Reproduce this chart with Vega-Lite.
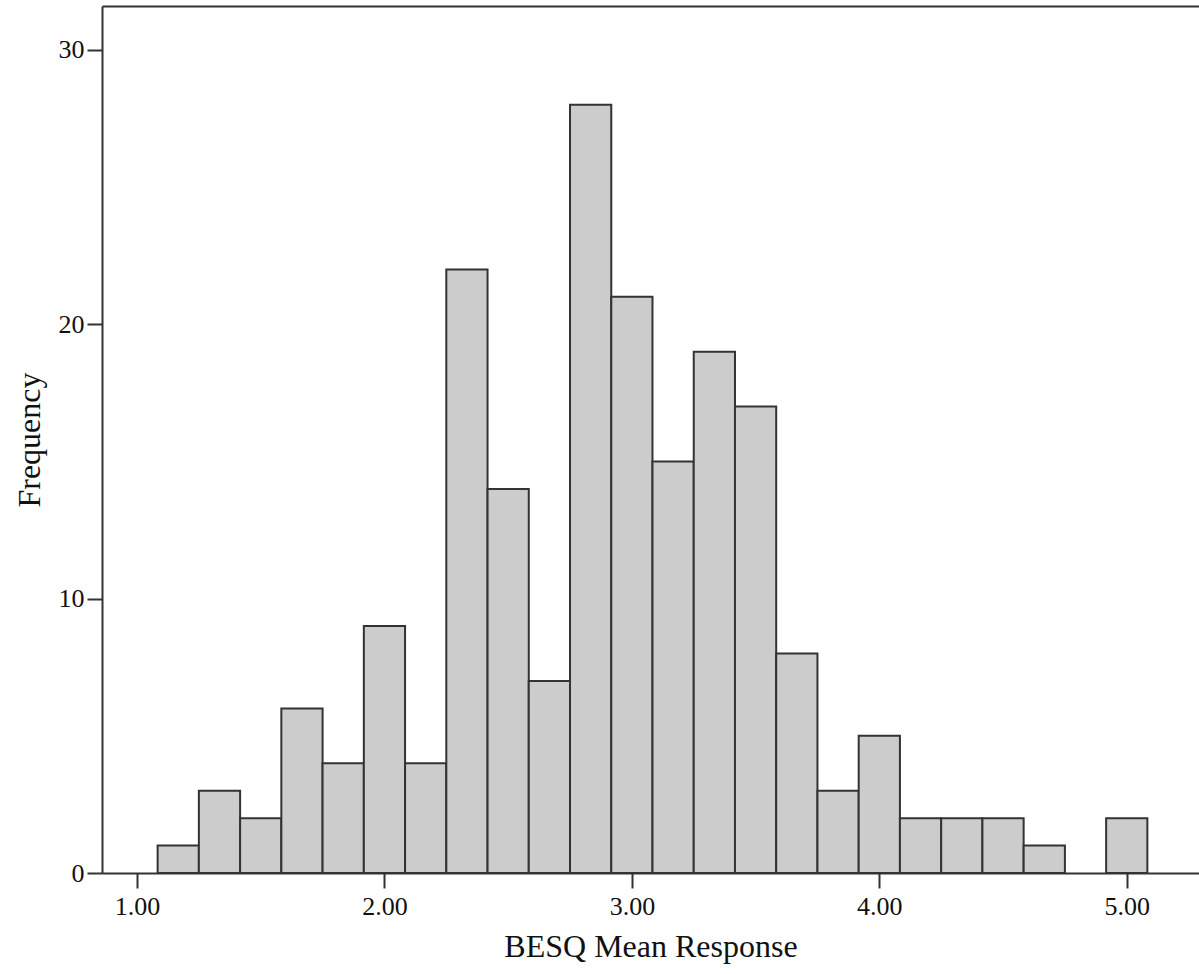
{
  "$schema": "https://vega.github.io/schema/vega-lite/v6.json",
  "autosize": {"type": "none"},
  "padding": {"left": 102, "top": 6, "right": 0, "bottom": 101},
  "width": 1097,
  "height": 867,
  "background": "white",
  "config": {
    "view": {"stroke": null},
    "font": "Liberation Serif",
    "axis": {
      "labelFont": "Liberation Serif",
      "titleFont": "Liberation Serif",
      "labelColor": "#111",
      "titleColor": "#111",
      "titleFontWeight": "normal",
      "domainColor": "#333",
      "domainWidth": 2,
      "tickColor": "#333",
      "tickWidth": 2,
      "tickSize": 15,
      "grid": false
    }
  },
  "data": {
    "values": [
      {"bin_start": 1.0833, "bin_end": 1.2500, "count": 1},
      {"bin_start": 1.2500, "bin_end": 1.4167, "count": 3},
      {"bin_start": 1.4167, "bin_end": 1.5833, "count": 2},
      {"bin_start": 1.5833, "bin_end": 1.7500, "count": 6},
      {"bin_start": 1.7500, "bin_end": 1.9167, "count": 4},
      {"bin_start": 1.9167, "bin_end": 2.0833, "count": 9},
      {"bin_start": 2.0833, "bin_end": 2.2500, "count": 4},
      {"bin_start": 2.2500, "bin_end": 2.4167, "count": 22},
      {"bin_start": 2.4167, "bin_end": 2.5833, "count": 14},
      {"bin_start": 2.5833, "bin_end": 2.7500, "count": 7},
      {"bin_start": 2.7500, "bin_end": 2.9167, "count": 28},
      {"bin_start": 2.9167, "bin_end": 3.0833, "count": 21},
      {"bin_start": 3.0833, "bin_end": 3.2500, "count": 15},
      {"bin_start": 3.2500, "bin_end": 3.4167, "count": 19},
      {"bin_start": 3.4167, "bin_end": 3.5833, "count": 17},
      {"bin_start": 3.5833, "bin_end": 3.7500, "count": 8},
      {"bin_start": 3.7500, "bin_end": 3.9167, "count": 3},
      {"bin_start": 3.9167, "bin_end": 4.0833, "count": 5},
      {"bin_start": 4.0833, "bin_end": 4.2500, "count": 2},
      {"bin_start": 4.2500, "bin_end": 4.4167, "count": 2},
      {"bin_start": 4.4167, "bin_end": 4.5833, "count": 2},
      {"bin_start": 4.5833, "bin_end": 4.7500, "count": 1},
      {"bin_start": 4.7500, "bin_end": 4.9167, "count": 0},
      {"bin_start": 4.9167, "bin_end": 5.0833, "count": 2}
    ]
  },
  "resolve": {"axis": {"x": "independent"}},
  "layer": [
    {
      "transform": [{"filter": "datum.count > 0"}],
      "mark": {"type": "bar", "fill": "#cccccc", "stroke": "#333333", "strokeWidth": 2},
      "encoding": {
        "x": {
          "field": "bin_start", "type": "quantitative",
          "scale": {"domain": [0.8585, 5.292], "nice": false, "zero": false},
          "axis": {
            "orient": "bottom",
            "values": [1, 2, 3, 4, 5],
            "format": ".2f",
            "labelFontSize": 26,
            "labelPadding": 5,
            "title": "BESQ Mean Response",
            "titleFontSize": 32,
            "titlePadding": 12
          }
        },
        "x2": {"field": "bin_end"},
        "y": {
          "field": "count", "type": "quantitative",
          "scale": {"domain": [0, 31.6], "nice": false},
          "axis": {
            "values": [0, 10, 20, 30],
            "labelFontSize": 26,
            "labelPadding": 3,
            "title": "Frequency",
            "titleFontSize": 32,
            "titlePadding": 12
          }
        },
        "y2": {"datum": 0}
      }
    },
    {
      "mark": {"type": "bar", "opacity": 0},
      "encoding": {
        "x": {
          "field": "bin_start", "type": "quantitative",
          "scale": {"domain": [0.8585, 5.292], "nice": false, "zero": false},
          "axis": {"orient": "top", "labels": false, "ticks": false, "title": null}
        },
        "x2": {"field": "bin_end"},
        "y": {
          "field": "count", "type": "quantitative",
          "scale": {"domain": [0, 31.6], "nice": false}
        },
        "y2": {"datum": 0}
      }
    }
  ]
}
